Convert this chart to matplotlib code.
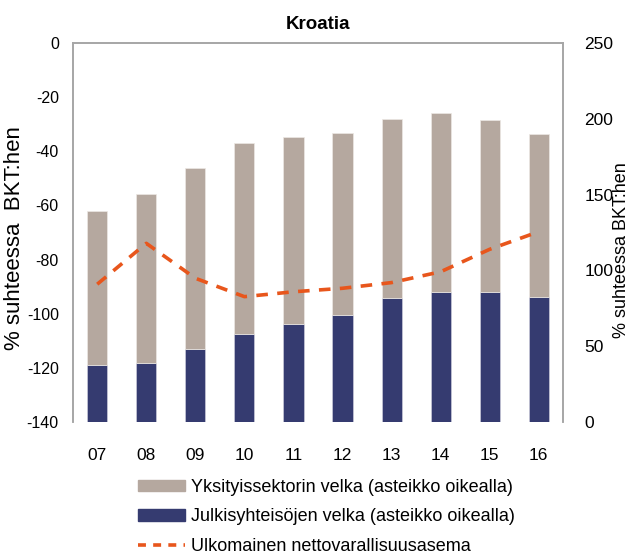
import matplotlib
matplotlib.use("Agg")
import matplotlib.pyplot as plt
from matplotlib.patches import Patch
from matplotlib.lines import Line2D
from matplotlib import font_manager
import numpy as np

years = ["07", "08", "09", "10", "11", "12", "13", "14", "15", "16"]
public_debt = [37.6, 38.9, 48.4, 57.8, 64.6, 70.4, 81.8, 85.8, 85.8, 82.7]
private_debt = [101.6, 111.7, 119.4, 126.2, 123.2, 120.2, 118.3, 118.2, 113.4, 107.1]
net_position = [-89.1, -74.0, -86.9, -93.7, -91.9, -90.6, -88.5, -84.5, -76.2, -69.7]

labels = ["Yksityissektorin velka (asteikko oikealla)",
          "Julkisyhteisöjen velka (asteikko oikealla)",
          "Ulkomainen nettovarallisuusasema"]

GREY = "#b5a89f"
BLUE = "#353b70"
ORANGE = "#e8561c"
SPINE = "#a6a6a6"

available = {f.name for f in font_manager.fontManager.ttflist}
family = [f for f in ["Liberation Sans Narrow", "Liberation Sans", "DejaVu Sans"] if f in available]
plt.rcParams["font.family"] = family
plt.rcParams["axes.unicode_minus"] = False

W, H = 633, 557
fig = plt.figure(figsize=(W / 100, H / 100), dpi=100)
ax = fig.add_axes([72.7 / W, 1 - 422 / H, (563.3 - 72.7) / W, (422 - 43) / H])
ax2 = ax.twinx()

x = np.arange(len(years))
ax2.bar(x, public_debt, width=0.41, color=BLUE, edgecolor="#c9c9d9", linewidth=0.5)
ax2.bar(x, private_debt, width=0.41, bottom=public_debt, color=GREY,
        edgecolor="#ece8e4", linewidth=0.5)
ax.plot(x, net_position, color=ORANGE, lw=2.6, dashes=(3.2, 2.6))

# line drawn over the bars
ax.set_zorder(ax2.get_zorder() + 1)
ax.patch.set_visible(False)

ax.set_xlim(-0.5, len(years) - 0.5)
ax.set_ylim(-140, 0)
ax.set_yticks(np.arange(-140, 1, 20))
ax2.set_ylim(0, 250)
ax2.set_yticks(np.arange(0, 251, 50))
ax.set_xticks(x)
ax.set_xticklabels(years)

for a in (ax, ax2):
    a.spines["bottom"].set_visible(False)
    for s in ("left", "right", "top"):
        a.spines[s].set_color(SPINE)
        a.spines[s].set_linewidth(1.2)
    a.tick_params(length=0, labelsize=11.5)
ax.tick_params(axis="y", pad=10)
ax.tick_params(axis="x", pad=19, labelsize=12.5)
ax2.tick_params(axis="y", pad=15, labelsize=12.5)

fig.text(15 / W, 1 - 238 / H, "% suhteessa  BKT:hen", rotation=90,
         ha="center", va="center", fontsize=16)
fig.text(622 / W, 1 - 250 / H, "% suhteessa BKT:hen", rotation=90,
         ha="center", va="center", fontsize=13)
ax.set_title("Kroatia", fontsize=13.5, fontweight="bold", pad=10)

handles = [Patch(color=GREY), Patch(color=BLUE),
           Line2D([], [], color=ORANGE, lw=2.6, dashes=(2.2, 2.0))]
fig.legend(handles, labels, loc="upper left", bbox_to_anchor=(138 / W, 1 - 479 / H),
           frameon=False, fontsize=13, handlelength=2.6, handleheight=0.6,
           handletextpad=0.35, labelspacing=0.68, borderpad=0, borderaxespad=0)

fig.savefig("out.png", dpi=100)
